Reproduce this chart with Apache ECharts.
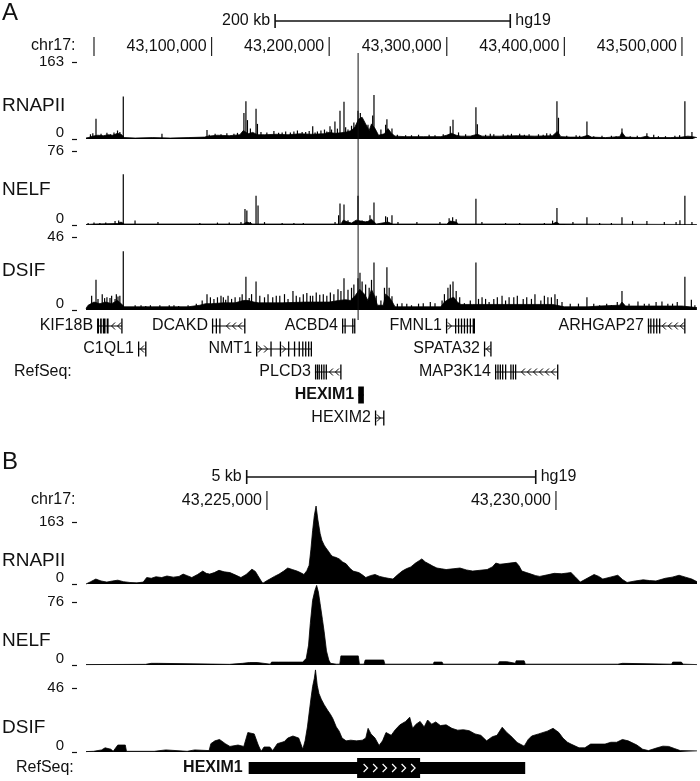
<!DOCTYPE html>
<html><head><meta charset="utf-8">
<script src="https://cdn.jsdelivr.net/npm/echarts@6.0.0/dist/echarts.min.js"></script>
<style>html,body{margin:0;padding:0;background:#fff}#c{width:700px;height:781px}</style>
</head><body><div id="c"></div>
<script>
const FONT = '"Liberation Sans", Arial, Helvetica, sans-serif';

// ---------- DATA (positions in kb on chr17, hg19) ----------
const A_RANGE = [42993.2, 43512.8];
const B_RANGE = [43221.87, 43232.44];

const aScaleBar = [43154, 43354];
const aScaleLabel = '200 kb';
const aTicks = [43000, 43100, 43200, 43300, 43400, 43500];
const aTickLabels = ['', '43,100,000', '43,200,000', '43,300,000', '43,400,000', '43,500,000'];
const hexim1Mark = 43224.6;

const bScaleBar = [43224.65, 43229.65];
const bScaleLabel = '5 kb';
const bTicks = [43225, 43230];
const bTickLabels = ['43,225,000', '43,230,000'];

const trackNames = ['RNAPII', 'NELF', 'DSIF'];
const trackMax = [163, 76, 46];

// Panel A background signal [kb, value]
const aRnapBg = [[42993.2,2],[42995,3],[42999,6],[43003,8],[43008,7],[43012,9],[43016,8],[43020,12],[43023,10],[43026,3],[43035,2],[43050,3],[43065,2],[43080,3],[43094,4],[43097,6],[43105,8],[43115,7],[43124,9],[43127,18],[43131,11],[43135,14],[43139,9],[43145,9],[43155,10],[43165,9],[43175,11],[43185,10],[43195,11],[43200,14],[43205,12],[43210,13],[43215,15],[43219,18],[43222,26],[43225,42],[43228,46],[43231,32],[43234,18],[43236,32],[43239,22],[43242,8],[43247,11],[43250,22],[43253,12],[43256,6],[43265,5],[43280,5],[43295,5],[43300,8],[43304,12],[43308,8],[43312,6],[43320,6],[43326,10],[43330,6],[43345,6],[43360,7],[43375,6],[43390,7],[43394,16],[43397,5],[43405,4],[43415,4],[43420,8],[43423,4],[43435,3],[43447,5],[43449,14],[43452,4],[43465,3],[43470,6],[43473,3],[43490,3],[43500,4],[43505,6],[43509,5],[43512.7,3]];
const aRnapSpikes = [[43001.7,43],[43020,18],[43024.9,90],[43057.8,11],[43096.1,19],[43127.5,55],[43129.2,80],[43130.5,40],[43137.8,64],[43139,32],[43150,6],[43160,14],[43170,16],[43180,15],[43186,27],[43190,16],[43196,20],[43200.7,27],[43204.9,37],[43209.2,60],[43212.6,79],[43216,20],[43224.5,60],[43226.5,55],[43237,50],[43238.1,93],[43248,30],[43249.1,42],[43253.4,22],[43265,8],[43285,9],[43303,27],[43305.3,41],[43324.8,67],[43326,31],[43340,10],[43355,11],[43370,10],[43385,12],[43393.7,80],[43395,45],[43410,8],[43419.2,37],[43440,7],[43449,22],[43470.2,12],[43480,6],[43502.5,80],[43508.5,15],
 [42997,10],[42999,12],[43006,11],[43011,13],[43014,10],[43017,14],[43022,15],[43098,9],[43103,11],[43108,10],[43113,12],[43119,11],[43122,13],[43133,22],[43142,15],[43147,14],[43153,17],[43157,13],[43163,16],[43167,14],[43173,18],[43177,15],[43183,17],[43188,14],[43193,18],[43198,16],[43202,20],[43207,22],[43214,25],[43219,28],[43221,35],[43233,30],[43244,20],[43258,9],[43270,8],[43276,9],[43290,8],[43297,10],[43310,14],[43316,10],[43333,9],[43337,11],[43348,10],[43352,9],[43362,11],[43366,9],[43378,10],[43382,9],[43388,11],[43402,7],[43413,7],[43425,6],[43432,7],[43444,6],[43456,6],[43462,7],[43476,9],[43486,6],[43494,7],[43498,8]];

const aNelfBg = [[42993.2,0.5],[43000,1],[43020,1.5],[43023,3],[43026,1],[43127,1],[43130,3],[43135,1],[43210,1],[43212,5],[43216,3],[43219,2],[43223,5],[43227,4],[43232,3],[43236,6],[43240,1],[43250,3],[43254,1],[43300,1],[43303,4],[43308,3],[43310,1],[43390,1],[43393,3],[43396,1],[43512.7,0.5]];
const aNelfSpikes = [[42995,2],[43000,2.5],[43005,2],[43010,2.5],[43017.9,4],[43021,4.5],[43024.9,52],[43034.9,4.5],[43054.4,3],[43090,2],[43105,2.5],[43115,2.5],[43125,3],[43128.4,16.5],[43130,15],[43133,3],[43137.8,30],[43139.5,20],[43145,3],[43160,2],[43170,2],[43178,2],[43205,3],[43208,10],[43209.2,22],[43212.6,21],[43216,5],[43224.5,30],[43228,4.5],[43232,4],[43234.7,10],[43238.1,23],[43248,9],[43249.5,8],[43253.4,10],[43258.5,3],[43274.6,3],[43294.2,3],[43302,7],[43305,8],[43308,6],[43324.8,27],[43329.9,3],[43350,2],[43362,2],[43383,2],[43390,4.5],[43393.7,17.5],[43407.3,3],[43419.2,8],[43430,2],[43440,2],[43449,8],[43458,4],[43470.2,4],[43485,3],[43495,3],[43498.3,5],[43502.5,30],[43508.5,3]];

const aDsifBg = [[42993.2,1],[42995,3],[43000,5],[43005,4],[43010,5],[43015,4],[43020,6],[43026,2],[43050,2],[43080,2],[43090,3],[43095,4],[43100,4],[43110,4.5],[43120,4.5],[43127,6],[43131,6],[43136,5],[43140,4.5],[43160,4.5],[43180,5],[43200,5],[43208,6],[43214,6.5],[43218,6],[43222,9],[43226,13],[43230,10],[43233,6],[43236,13],[43239,8],[43241,3],[43246,3],[43248,10],[43251,8],[43253,6],[43256,2],[43295,2],[43298,5],[43302,7],[43306,8],[43309,5],[43312,3.5],[43322,3.5],[43327,3.5],[43330,3.5],[43390,3.5],[43400,2],[43420,2],[43430,2.5],[43447,3],[43449,5],[43452,2.5],[43500,2.5],[43512.7,1.5]];
const aDsifSpikes = [[43001.7,19],[43003.4,7],[43009,7.5],[43013.6,7.5],[43017.9,7],[43020.4,8.5],[43024.9,37],[43035,3],[43044,2.5],[43056,3],[43064,3],[43072,2.5],[43080,3],[43087,4],[43096.1,10],[43105,8],[43112,6.5],[43117,7],[43124,8],[43129.2,21],[43132,7.5],[43137.8,18],[43145,8],[43152,8],[43158,9],[43165,7],[43169.2,12],[43175,8],[43181,10.7],[43186,9],[43192,9.6],[43198,9],[43204,10],[43207.5,13],[43212.6,20],[43216,12.8],[43224.5,20],[43226.2,23.5],[43228,18],[43236,19],[43238.1,30],[43247,14],[43249.1,27],[43253.4,8.6],[43261.9,4.3],[43270,3],[43280,4.3],[43290,4.3],[43301,14],[43305.3,18],[43308,12],[43315,4.3],[43324.8,30],[43330,8],[43336,5],[43343,8],[43350,6],[43357,8],[43365,7],[43375,10],[43380,6],[43386,8],[43392,10],[43394,7],[43419.2,8],[43430,3],[43440,3],[43449,12],[43462.6,5.4],[43472,4],[43483,5.4],[43492,4],[43502.5,21],[43508,6.4],
 [42998,9],[43007,10],[43011,8],[43015,9],[43019,10],[43022,9],[43040,3],[43048,3],[43068,3],[43092,6],[43099,8],[43102,7],[43108,9],[43110,8],[43114,9],[43120,8],[43126,10],[43134,10],[43141,9],[43148,10],[43155,9],[43162,10],[43172,9],[43178,10],[43184,9],[43189,11],[43195,10],[43201,11],[43210,12],[43219,14],[43221,16],[43231,16],[43234,14],[43240,9],[43244,6],[43251,14],[43258,4],[43266,4],[43276,4],[43286,5],[43296,6],[43298,10],[43303,16],[43311,8],[43320,6],[43327,7],[43333,7],[43340,7],[43347,9],[43353,8],[43360,9],[43368,8],[43372,7],[43383,9],[43389,8],[43398,5],[43405,4],[43412,4],[43425,4],[43436,4],[43445,5],[43455,4],[43468,4],[43478,5],[43488,4],[43496,5],[43511,3]];

// Panel B signal [kb, value]
const bRnap = [[43221.87,0],[43221.95,6],[43222.04,13],[43222.13,8],[43222.23,5],[43222.33,8],[43222.42,10],[43222.52,6],[43222.63,4],[43222.75,3],[43222.86,5],[43222.92,17],[43223.00,15],[43223.08,19],[43223.18,17],[43223.27,21],[43223.38,18],[43223.48,20],[43223.55,26],[43223.62,22],[43223.70,17],[43223.80,25],[43223.89,34],[43223.95,28],[43224.01,26],[43224.09,30],[43224.17,36],[43224.26,32],[43224.36,30],[43224.45,24],[43224.55,17],[43224.64,25],[43224.74,39],[43224.80,33],[43224.84,23],[43224.90,8],[43224.93,2],[43224.99,8],[43225.05,13],[43225.13,20],[43225.21,26],[43225.29,34],[43225.36,42],[43225.44,38],[43225.52,34],[43225.58,30],[43225.64,25],[43225.69,35],[43225.73,49],[43225.76,90],[43225.79,140],[43225.82,180],[43225.85,205],[43225.88,170],[43225.92,133],[43225.95,115],[43225.99,102],[43226.02,95],[43226.06,87],[43226.10,78],[43226.14,72],[43226.19,70],[43226.25,66],[43226.31,58],[43226.37,53],[43226.43,42],[43226.49,34],[43226.54,32],[43226.59,30],[43226.65,24],[43226.71,17],[43226.79,22],[43226.87,25],[43226.95,20],[43227.03,17],[43227.10,15],[43227.18,13],[43227.26,24],[43227.34,34],[43227.41,40],[43227.49,45],[43227.57,55],[43227.64,62],[43227.68,66],[43227.74,58],[43227.80,53],[43227.87,47],[43227.94,42],[43228.02,40],[43228.10,38],[43228.22,40],[43228.34,42],[43228.45,37],[43228.56,34],[43228.68,36],[43228.81,38],[43228.90,45],[43228.96,55],[43229.03,52],[43229.10,53],[43229.20,55],[43229.31,57],[43229.36,48],[43229.41,34],[43229.49,30],[43229.57,26],[43229.65,22],[43229.72,20],[43229.85,24],[43229.97,28],[43230.10,27],[43230.26,30],[43230.34,18],[43230.42,5],[43230.54,15],[43230.66,25],[43230.74,20],[43230.81,13],[43230.94,18],[43231.07,23],[43231.15,12],[43231.23,4],[43231.37,8],[43231.51,11],[43231.62,9],[43231.73,8],[43231.89,15],[43232.01,18],[43232.13,23],[43232.24,18],[43232.35,13],[43232.44,6]];
const bNelf = [[43221.87,0.5],[43222.9,0.8],[43223.0,2],[43223.12,2],[43223.14,0.8],[43224.35,0.8],[43224.36,2],[43224.58,2],[43224.6,1],[43224.70,3],[43224.83,3],[43224.85,1],[43225.06,1],[43225.08,3.5],[43225.2,3.5],[43225.22,1.5],[43225.38,3.5],[43225.62,3.5],[43225.68,8],[43225.72,24],[43225.75,50],[43225.79,78],[43225.83,90],[43225.86,96],[43225.89,88],[43225.92,74],[43225.96,55],[43225.99,40],[43226.03,17],[43226.07,6],[43226.1,2],[43226.2,1],[43226.26,1],[43226.28,11],[43226.58,11],[43226.6,1],[43226.68,1],[43226.70,6],[43227.02,6],[43227.04,1],[43227.88,1],[43227.89,3.5],[43228.03,3.5],[43228.05,1],[43229.0,1],[43229.02,4],[43229.15,4],[43229.16,2],[43229.3,2],[43229.31,5],[43229.45,5],[43229.47,1],[43231.07,1],[43231.08,2],[43231.15,2],[43231.16,1],[43232.0,1],[43232.02,3.5],[43232.17,3.5],[43232.2,1],[43232.44,0.5]];
const bDsif = [[43221.87,0.3],[43222.0,0.5],[43222.14,1.5],[43222.2,3],[43222.3,2],[43222.34,0.5],[43222.42,5],[43222.55,5],[43222.57,0.5],[43223.05,0.5],[43223.08,1.5],[43223.25,1.5],[43223.27,0.5],[43223.62,0.5],[43223.65,1.5],[43223.75,1.5],[43223.78,0.5],[43224.0,1],[43224.03,6],[43224.1,8],[43224.18,9],[43224.28,6],[43224.36,4],[43224.5,5],[43224.6,4],[43224.67,14],[43224.78,13],[43224.85,5],[43224.9,0.5],[43224.95,3.6],[43225.05,3.6],[43225.1,1],[43225.18,6],[43225.3,7.5],[43225.36,10],[43225.45,11.5],[43225.55,10],[43225.62,2],[43225.66,8],[43225.7,18],[43225.73,28],[43225.76,38],[43225.79,47],[43225.82,53],[43225.84,59],[43225.87,48],[43225.9,42],[43225.94,38],[43225.99,34],[43226.05,30],[43226.1,27],[43226.14,24],[43226.2,18],[43226.25,15],[43226.3,10],[43226.37,8],[43226.45,8.5],[43226.55,8],[43226.65,8.5],[43226.71,10],[43226.75,17],[43226.8,13],[43226.87,10],[43226.94,4.7],[43227.0,8],[43227.06,14],[43227.15,12],[43227.22,16],[43227.3,19.5],[43227.4,22],[43227.47,25],[43227.52,17],[43227.58,20],[43227.65,22],[43227.72,18],[43227.78,23],[43227.85,20],[43227.92,21.6],[43228.0,19],[43228.1,19.5],[43228.2,17],[43228.3,15.7],[43228.4,16],[43228.5,15.3],[43228.6,13],[43228.7,12],[43228.8,8],[43228.9,11],[43228.98,12],[43229.07,17.8],[43229.15,14],[43229.22,11.5],[43229.33,6.8],[43229.45,4.2],[43229.52,9],[43229.58,11.5],[43229.7,13],[43229.85,15],[43229.95,17],[43230.05,14],[43230.12,10],[43230.2,7],[43230.26,5.7],[43230.4,3],[43230.5,3],[43230.6,5.7],[43230.85,5.7],[43230.95,7],[43231.05,7],[43231.15,9],[43231.25,8],[43231.4,5],[43231.5,2],[43231.6,1],[43231.75,3],[43231.85,4.2],[43231.95,4],[43232.05,2.5],[43232.15,1],[43232.44,0.8]];

// RefSeq genes, panel A: [name, row, strand, start, end, exons]
const genesA = [
 ['KIF18B', 0, -1, 43002.6, 43023.8, [[43002.6,43004.3],[43005.2,43006.6],[43007.5,43009.8],[43010.8,43012.4],[43023.2,43023.8]]],
 ['DCAKD', 0, -1, 43100.3, 43128.4, [[43100.3,43101.2],[43103.5,43104.2],[43106.5,43107.2],[43127.7,43128.4]]],
 ['ACBD4', 0, 1, 43210.9, 43221.9, [[43210.9,43211.8],[43213,43213.6],[43219.5,43220.2],[43221.2,43221.9]]],
 ['FMNL1', 0, 1, 43299.3, 43324.0, [[43299.3,43300.1],[43307,43308],[43309.5,43310.5],[43312,43313],[43314.5,43315.5],[43317,43318],[43319.5,43320.5],[43322,43324]]],
 ['ARHGAP27', 0, -1, 43471.0, 43502.6, [[43471,43472],[43473,43474],[43475.5,43476.5],[43478,43479],[43480.5,43481.5],[43501.9,43502.6]]],
 ['C1QL1', 1, -1, 43037.4, 43044.2, [[43037.4,43038.2],[43043.5,43044.2]]],
 ['NMT1', 1, 1, 43137.8, 43185.4, [[43137.8,43138.6],[43150,43150.6],[43158,43158.6],[43165,43165.6],[43170,43170.6],[43174,43174.6],[43177,43177.6],[43179.5,43180.1],[43182,43182.6],[43184.3,43185.4]]],
 ['SPATA32', 1, -1, 43331.6, 43337.6, [[43331.6,43332.4],[43337,43337.6]]],
 ['PLCD3', 2, -1, 43187.9, 43210.0, [[43187.9,43188.8],[43189.5,43190.3],[43191,43192],[43193,43194],[43195,43196],[43197,43198],[43209.4,43210]]],
 ['MAP3K14', 2, -1, 43341.0, 43394.6, [[43341,43342],[43343,43344],[43345,43346],[43347,43348],[43349.5,43350.3],[43354,43355],[43356,43357],[43358,43359],[43393.8,43394.6]]],
 ['HEXIM1', 3, 1, 43224.7, 43229.5, [[43224.7,43229.5]]],
 ['HEXIM2', 4, 1, 43238.9, 43246.6, [[43238.9,43239.6],[43245.9,43246.6]]]
];
// Panel B gene
const bGeneName = 'HEXIM1';
const bGeneSpan = [43224.684, 43229.468];
const bGeneCds = [43226.56, 43227.65];

// ---------- BUILD ----------
const grid = [], xAxis = [], yAxis = [], series = [];
function addGrid(top, height, range, yMin, yMax, yOpts) {
  const i = grid.length;
  grid.push({left: 86, width: 611, top: top, height: height});
  xAxis.push({type: 'value', gridIndex: i, min: range[0], max: range[1], show: false});
  yAxis.push(Object.assign({type: 'value', gridIndex: i, min: yMin, max: yMax, show: false}, yOpts || {}));
  return i;
}
function trackY(max) {
  return {show: true, interval: max, offset: 9,
    axisLine: {show: false}, splitLine: {show: false},
    axisTick: {show: true, length: 5, lineStyle: {color: '#111', width: 1.2}},
    axisLabel: {margin: 13, color: '#111', fontSize: 15, fontFamily: FONT,
      formatter: v => v === 0 ? '{z|0}' : '{t|' + v + '}',
      rich: {z: {fontSize: 15, fontFamily: FONT, color: '#111', padding: [0, 0, 12, 0]},
             t: {fontSize: 15, fontFamily: FONT, color: '#111'}}}};
}
function spikeRender(params, api) {
  const x = api.value(0), v = api.value(1);
  const p0 = api.coord([x, 0]), p1 = api.coord([x, v]);
  return {type: 'rect', shape: {x: p0[0] - 0.6, y: p1[1], width: 1.2, height: p0[1] - p1[1]}, style: {fill: '#000'}};
}
function addSignal(gi, bg, spikes) {
  series.push({type: 'line', xAxisIndex: gi, yAxisIndex: gi, data: bg, symbol: 'none', clip: false,
    lineStyle: {color: '#000', width: 0.8}, areaStyle: {color: '#000', opacity: 1}, animation: false});
  if (spikes) series.push({type: 'custom', xAxisIndex: gi, yAxisIndex: gi, data: spikes, renderItem: spikeRender, animation: false});
}
function addRuler(top, height, range, ticks, labels) {
  const gi = addGrid(top, height, range, 0, 1);
  series.push({type: 'custom', xAxisIndex: gi, yAxisIndex: gi, data: ticks.map(t => [t, 0]), animation: false,
    renderItem: (params, api) => {
      const x = api.value(0);
      const pb = api.coord([x, 0]), pt = api.coord([x, 1]);
      return {type: 'group', children: [
        {type: 'line', shape: {x1: pb[0], y1: pb[1], x2: pt[0], y2: pt[1]}, style: {stroke: '#222', lineWidth: 1.2}},
        {type: 'text', style: {text: labels[params.dataIndex], x: pb[0] - 5, y: (pb[1] + pt[1]) / 2, align: 'right', verticalAlign: 'middle', fontSize: 16, fontFamily: FONT, fill: '#111'}}
      ]};
    }});
}
function addScale(top, height, range, bar, label) {
  const gi = addGrid(top, height, range, 0, 1);
  series.push({type: 'custom', xAxisIndex: gi, yAxisIndex: gi, data: [[bar[0], bar[1]]], animation: false,
    renderItem: (params, api) => {
      const a = api.coord([api.value(0), 0]), at = api.coord([api.value(0), 1]);
      const b = api.coord([api.value(1), 0]);
      const ym = (a[1] + at[1]) / 2;
      return {type: 'group', children: [
        {type: 'line', shape: {x1: a[0], y1: ym, x2: b[0], y2: ym}, style: {stroke: '#111', lineWidth: 1.6}},
        {type: 'line', shape: {x1: a[0], y1: a[1], x2: a[0], y2: at[1]}, style: {stroke: '#111', lineWidth: 1.6}},
        {type: 'line', shape: {x1: b[0], y1: a[1], x2: b[0], y2: at[1]}, style: {stroke: '#111', lineWidth: 1.6}},
        {type: 'text', style: {text: label, x: a[0] - 5, y: ym, align: 'right', verticalAlign: 'middle', fontSize: 16, fontFamily: FONT, fill: '#111'}},
        {type: 'text', style: {text: 'hg19', x: b[0] + 5, y: ym, align: 'left', verticalAlign: 'middle', fontSize: 16, fontFamily: FONT, fill: '#111'}}
      ]};
    }});
}

// Panel A
addScale(14, 14, A_RANGE, aScaleBar, aScaleLabel);
addRuler(37, 19, A_RANGE, aTicks, aTickLabels);
const gMark = addGrid(53, 267, A_RANGE, 0, 1);
series.push({type: 'line', xAxisIndex: gMark, yAxisIndex: gMark, data: [[hexim1Mark, 0], [hexim1Mark, 1]], symbol: 'none',
  lineStyle: {color: '#111', width: 1}, animation: false});
const aTop = [62, 151, 237], aH = [77, 74, 73];
const aBg = [aRnapBg, aNelfBg, aDsifBg], aSp = [aRnapSpikes, aNelfSpikes, aDsifSpikes];
for (let k = 0; k < 3; k++) {
  const gi = addGrid(aTop[k], aH[k], A_RANGE, 0, trackMax[k], trackY(trackMax[k]));
  addSignal(gi, aBg[k], aSp[k]);
}
const gGenes = addGrid(314.5, 115, A_RANGE, -0.5, 4.5, {inverse: true});
series.push({type: 'custom', xAxisIndex: gGenes, yAxisIndex: gGenes, animation: false,
  data: genesA.map(g => [g[3], g[1]]),
  renderItem: (params, api) => {
    const g = genesA[params.dataIndex];
    const name = g[0], row = g[1], strand = g[2];
    const p0 = api.coord([g[3], row]), p1 = api.coord([g[4], row]);
    const y = p0[1];
    const bold = name === 'HEXIM1';
    const h = bold ? 17 : 15;
    const ex = g[5].map(e => [api.coord([e[0], row])[0], api.coord([e[1], row])[0]]);
    const ch = [{type: 'line', shape: {x1: p0[0], y1: y, x2: p1[0], y2: y}, style: {stroke: '#000', lineWidth: 1}}];
    for (let x = p0[0] + 4; x < p1[0] - 2; x += 6) {
      if (ex.some(e => x > e[0] - 2 && x < e[1] + 2)) continue;
      const pts = strand < 0 ? [[x + 2, y - 3.5], [x - 1.5, y], [x + 2, y + 3.5]] : [[x - 2, y - 3.5], [x + 1.5, y], [x - 2, y + 3.5]];
      ch.push({type: 'polyline', shape: {points: pts}, style: {stroke: '#000', lineWidth: 1, fill: null}});
    }
    ex.forEach(e => ch.push({type: 'rect', shape: {x: e[0], y: y - h / 2, width: Math.max(e[1] - e[0], 1.3), height: h}, style: {fill: '#000'}}));
    ch.push({type: 'text', style: {text: name, x: p0[0] - 4, y: y, align: 'right', verticalAlign: 'middle',
      fontSize: 16, fontWeight: bold ? 'bold' : 'normal', fontFamily: FONT, fill: '#111'}});
    return {type: 'group', children: ch};
  }});

// Panel B
addScale(470, 14, B_RANGE, bScaleBar, bScaleLabel);
addRuler(491, 19, B_RANGE, bTicks, bTickLabels);
const bTop = [522, 602, 688], bH = [62, 63, 64];
const bSig = [bRnap, bNelf, bDsif];
for (let k = 0; k < 3; k++) {
  const gi = addGrid(bTop[k], bH[k], B_RANGE, 0, trackMax[k], trackY(trackMax[k]));
  addSignal(gi, bSig[k], null);
}
const gGeneB = addGrid(758, 20, B_RANGE, 0, 1);
series.push({type: 'custom', xAxisIndex: gGeneB, yAxisIndex: gGeneB, animation: false,
  data: [[bGeneSpan[0], bGeneSpan[1], bGeneCds[0], bGeneCds[1]]],
  renderItem: (params, api) => {
    const s = api.coord([api.value(0), 0.5]), e = api.coord([api.value(1), 0.5]);
    const c0 = api.coord([api.value(2), 0.5]), c1 = api.coord([api.value(3), 0.5]);
    const y = s[1];
    const ch = [
      {type: 'rect', shape: {x: s[0], y: y - 6, width: e[0] - s[0], height: 12}, style: {fill: '#000'}},
      {type: 'rect', shape: {x: c0[0], y: y - 10, width: c1[0] - c0[0], height: 20}, style: {fill: '#000'}}
    ];
    for (let x = c0[0] + 9; x < c1[0] - 4; x += 9.5) {
      ch.push({type: 'polyline', shape: {points: [[x - 2.5, y - 4], [x + 1.5, y], [x - 2.5, y + 4]]}, style: {stroke: '#fff', lineWidth: 1.2, fill: null}});
    }
    ch.push({type: 'text', style: {text: bGeneName, x: s[0] - 6, y: y, align: 'right', verticalAlign: 'middle',
      fontSize: 16, fontWeight: 'bold', fontFamily: FONT, fill: '#111'}});
    return {type: 'group', children: ch};
  }});

// static labels
const T = (text, x, y, size, extra) => Object.assign({type: 'text', x: x, y: y,
  style: Object.assign({text: text, fontSize: size, fontFamily: FONT, fill: '#111', verticalAlign: 'middle'}, extra || {})});
const graphic = [
  T('A', 2, 13, 24), T('B', 2, 462, 24),
  T('chr17:', 31, 46, 16), T('chr17:', 31, 500, 16),
  T('RNAPII', 2, 106, 19), T('NELF', 2, 190, 19), T('DSIF', 2, 271, 19),
  T('RNAPII', 2, 561, 19), T('NELF', 2, 641, 19), T('DSIF', 2, 728, 19),
  T('RefSeq:', 14, 372, 16), T('RefSeq:', 16, 768, 16)
];

const chart = echarts.init(document.getElementById('c'), null, {renderer: 'canvas', width: 700, height: 781});
chart.setOption({animation: false, backgroundColor: '#fff', grid, xAxis, yAxis, series, graphic});
</script></body></html>
